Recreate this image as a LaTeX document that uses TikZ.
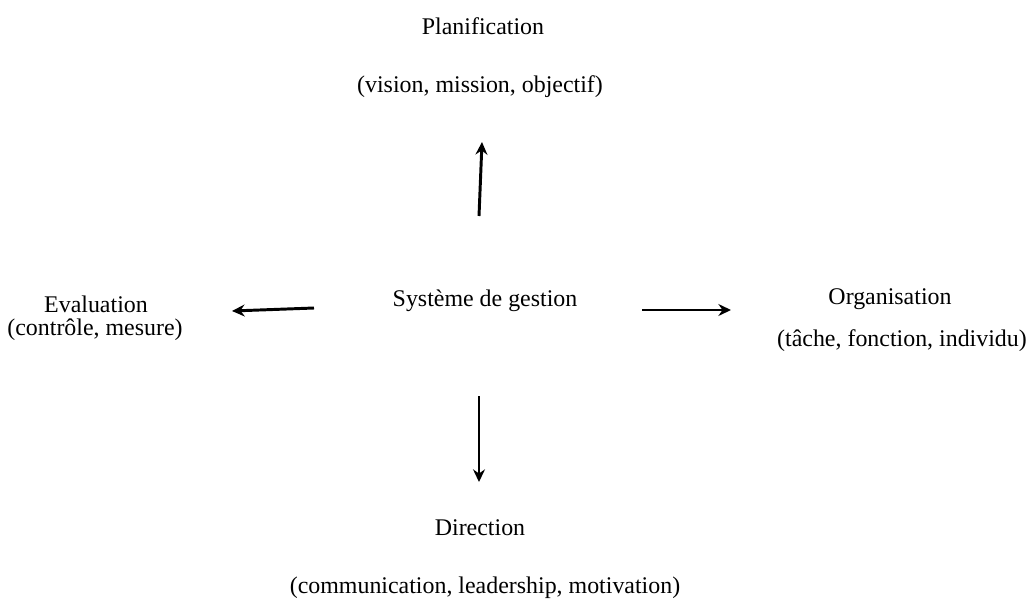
\documentclass[tikz,border=0pt]{standalone}
\usepackage{fontspec}
\setmainfont{Liberation Serif}
\usetikzlibrary{positioning,arrows.meta}
\begin{document}
\begin{tikzpicture}[x=0.025cm,y=-0.025cm,
	font=\fontsize{17}{20}\selectfont,
	every node/.style={inner sep=0pt},
	fleche/.style={-{Stealth[length=9pt,width=8.5pt,inset=3pt]},line width=2.1pt}]
\useasboundingbox (0,0) rectangle (1029,612);

%Centre
\node []  (systeme)at (485,301) {Système de gestion};

%Planification
\node []  (plan)at (483,26) {Planification};
\node []  (plantext)at (480,87) {(vision, mission, objectif)};
\node (pin) at (479,216) [coordinate] {};
\node (pout) at (482,142) [coordinate] {};
\draw[fleche] (pin) -- (pout);

%Evaluation
\node []  (eval)at (96,304) {Evaluation};
\node []  (evaltext)at (95,330) {(contrôle, mesure)};
\node (ein) at (314,308) [coordinate] {};
\node (eout) at (232,311) [coordinate] {};
\draw[fleche] (ein) -- (eout);

%Organisation
\node []  (org)at (890,299) {Organisation};
\node []  (orgtext)at (902,341) {(tâche, fonction, individu)};
\node (oin) at (642,310) [coordinate] {};
\node (oout) at (731,310) [coordinate] {};
\draw[fleche] (oin) -- (oout);

%Direction
\node []  (dir)at (480,528) {Direction};
\node []  (dirtext)at (485,588) {(communication, leadership, motivation)};
\node (din) at (479,396) [coordinate] {};
\node (dout) at (479,482) [coordinate] {};
\draw[fleche] (din) -- (dout);

\end{tikzpicture}
\end{document}
